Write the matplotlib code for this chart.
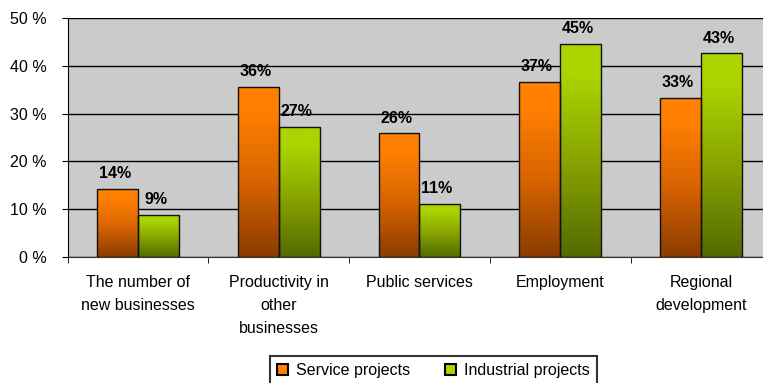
import numpy as np
import matplotlib.pyplot as plt
from matplotlib.patches import Rectangle
from matplotlib.colors import LinearSegmentedColormap

plt.rcParams['font.family'] = ['Liberation Sans', 'DejaVu Sans']

categories = ["The number of\nnew businesses", "Productivity in\nother\nbusinesses",
              "Public services", "Employment", "Regional\ndevelopment"]
service = [14.3, 35.6, 25.9, 36.6, 33.3]
industrial = [8.8, 27.3, 11.1, 44.6, 42.6]
series_names = ["Service projects", "Industrial projects"]
yticks = [0, 10, 20, 30, 40, 50]

orange_map = LinearSegmentedColormap.from_list("o", [(0, "#8a3c00"), (0.45, "#d96400"), (0.85, "#ff8000"), (1, "#ff8000")])
green_map = LinearSegmentedColormap.from_list("g", [(0, "#546a00"), (0.45, "#88a400"), (0.85, "#abd400"), (1, "#abd400")])


def gradient_bars(ax, bars, cmap):
    grad = np.linspace(0, 1, 256).reshape(-1, 1)
    for b in bars:
        x, w, h = b.get_x(), b.get_width(), b.get_height()
        im = ax.imshow(grad, cmap=cmap, origin="lower", aspect="auto",
                       extent=(x, x + w, 0, h), zorder=2)
        im.set_clip_path(b)


fig = plt.figure(figsize=(7.63, 3.83), dpi=100)
ax = fig.add_axes([67.7 / 763, 1 - 257 / 383, 703.5 / 763, 239 / 383])
ax.set_facecolor("#cbcbcb")

x = np.arange(len(categories))
w = 0.29
b1 = ax.bar(x - w / 2, service, w, facecolor="none", edgecolor="#111111", linewidth=1, zorder=3)
b2 = ax.bar(x + w / 2, industrial, w, facecolor="none", edgecolor="#111111", linewidth=1, zorder=3)
gradient_bars(ax, b1, orange_map)
gradient_bars(ax, b2, green_map)

for bars, vals in ((b1, service), (b2, industrial)):
    for b, v in zip(bars, vals):
        ax.text(b.get_x() + b.get_width() / 2 - 0.02, v + 1.6, f"{round(v)}%",
                ha="center", va="bottom", fontsize=11.5, fontweight="bold", zorder=4)

ax.set_xlim(-0.5, len(categories) - 0.5)
ax.set_ylim(0, 50)
ax.set_yticks(yticks)
ax.set_yticklabels([f"{t} %" for t in yticks], fontsize=11.5)
ax.yaxis.grid(True, color="black", linewidth=1, zorder=1)
ax.set_axisbelow(True)
ax.tick_params(axis="y", direction="out", length=4, pad=11)

ax.set_xticks(x)
ax.set_xticklabels(categories, fontsize=11.5, linespacing=1.65, va="top")
ax.set_xticks(np.arange(len(categories) + 1) - 0.5, minor=True)
ax.tick_params(axis="x", which="major", length=0, pad=13)
ax.tick_params(axis="x", which="minor", length=4, direction="out")

ax.spines["top"].set_visible(False)
ax.spines["right"].set_visible(False)
ax.spines["left"].set_color("black")
ax.spines["bottom"].set_color("#333333")

handles = [Rectangle((0, 0), 1, 1, facecolor="#ff8000", edgecolor="black", linewidth=1.5),
           Rectangle((0, 0), 1, 1, facecolor="#abd400", edgecolor="black", linewidth=1.5)]
leg = fig.legend(handles, series_names, loc="upper left",
                 bbox_to_anchor=(270 / 763, 1 - 356 / 383 - 0.08, 327 / 763, 0.08), mode="expand",
                 ncol=2, fontsize=11.5, frameon=True, fancybox=False, handlelength=0.7,
                 handleheight=0.7, handletextpad=0.5, columnspacing=1.5, borderpad=0.45,
                 borderaxespad=0)
leg.get_frame().set_edgecolor("black")
leg.get_frame().set_linewidth(1.5)

fig.savefig("out.png", dpi=100)
